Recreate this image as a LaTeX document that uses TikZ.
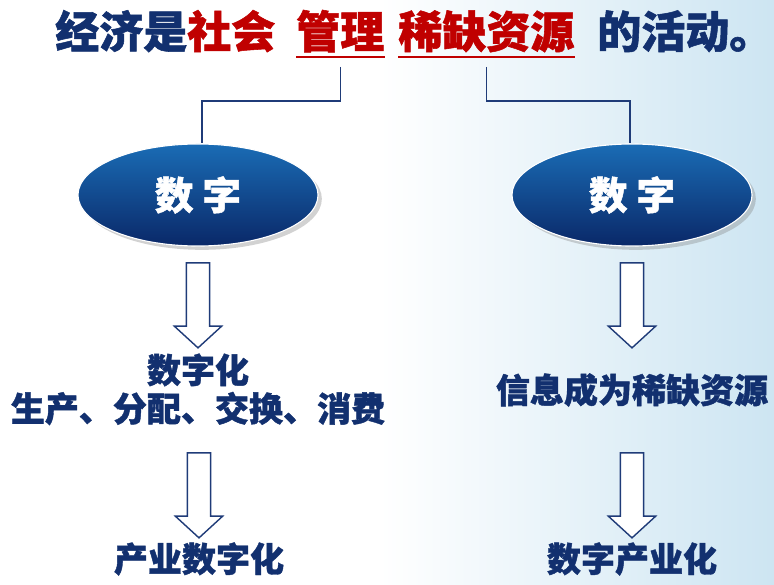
\documentclass[tikz,border=0pt]{standalone}
\usepackage{fontspec}
\setmainfont{Noto Sans CJK SC}[BoldFeatures={FakeBold=1.2}]
\usetikzlibrary{shapes.geometric,shapes.arrows,shadows,calc,positioning}

\definecolor{navy}{HTML}{12306F}
\definecolor{ired}{HTML}{C00000}
\definecolor{lineblue}{HTML}{1F3B78}
\definecolor{ovtop}{HTML}{1A6CB5}
\definecolor{ovmid}{HTML}{0E3A80}
\definecolor{ovbot}{HTML}{0A2868}
\definecolor{bgblue}{HTML}{CDE5F2}

\tikzset{
 title/.style={font=\fontsize{31.3pt}{32pt}\selectfont\bfseries, text=navy, inner sep=0pt, anchor=base west},
 oval/.style={ellipse, minimum width=6cm, minimum height=2.55cm, draw=white, thick, top color=ovtop, middle color=ovmid, bottom color=ovbot, drop shadow={opacity=0.35}, text=white, font=\fontsize{27.5pt}{28pt}\selectfont\bfseries},
 body/.style={font=\fontsize{24.2pt}{26pt}\selectfont\bfseries, text=navy, inner sep=0pt, align=center},
 link/.style={draw=lineblue, line width=0.9pt},
 uline/.style={draw=ired, line width=2pt},
 bigarrow/.style={single arrow, draw=lineblue, line width=1pt, fill=white, rotate=-90, minimum height=2.125cm, single arrow head extend=0.3cm, single arrow tip angle=95, inner xsep=0pt, inner ysep=7.8pt},
}

\begin{document}
\begin{tikzpicture}[x=0.025cm,y=-0.025cm]
 \fill[white] (0,0) rectangle (774,584);
 \shade[left color=white, right color=bgblue] (380,0) rectangle (774,584);
 \useasboundingbox (0,0) rectangle (774,584);

 % title
 \node[title] (jingji) at (55,48) {经济是\textcolor{ired}{社会}};
 \node[title, text=ired] (guanli) at (296,48) {管理};
 \node[title, text=ired] (xique) at (398,48) {稀缺资源};
 \node[title] (huodong) at (597,48) {的活动。};
 \draw[uline] ($(guanli.base west)+(0,9)$) -- ($(guanli.base east)+(0,9)$);
 \draw[uline] ($(xique.base west)+(0,9)$) -- ($(xique.base east)+(0,9)$);

 \node[oval] (shuL) at (198,195) {数 字};
 \node[oval] (shuR) at (632,195) {数 字};

 \coordinate (kneeL) at (202,101);
 \coordinate (kneeR) at (630,101);
 \draw[link] ($(guanli.base)+(0,19)$) |- (kneeL) -- (kneeL |- shuL.north);
 \draw[link] ($(xique.base)+(0,19)$) |- (kneeR) -- (kneeR |- shuR.north);

 % left column
 \node[bigarrow] (arrL1) at (198,300) {};
 \node[body] (shuzihua) at (198,370) {数字化};
 \node[body, below=3.5pt of shuzihua] (shengchan) {生产、分配、交换、消费};
 \node[bigarrow] (arrL2) at (199,490) {};
 \node[body] (chanyeL) at (199,559) {产业数字化};

 % right column
 \node[bigarrow] (arrR1) at (632,300) {};
 \node[body] (xinxi) at (632,390) {信息成为稀缺资源};
 \node[bigarrow] (arrR2) at (632,490) {};
 \node[body] (chanyeR) at (632,559) {数字产业化};
\end{tikzpicture}
\end{document}
